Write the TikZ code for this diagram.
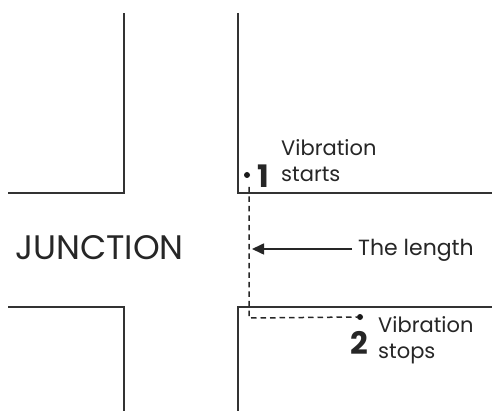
\documentclass[tikz,border=0pt]{standalone}
\usepackage{fontspec}
\setmainfont{Poppins}
\usetikzlibrary{arrows.meta}
\begin{document}
\begin{tikzpicture}[x=1pt,y=-1pt,
  wall/.style={draw=black!80, line width=2pt},
  route/.style={draw=black!85, line width=1.5pt, dash pattern=on 5.5pt off 4pt},
  spot/.style={circle, fill=black!90, inner sep=0pt, minimum size=6pt},
  label/.style={font=\fontsize{21}{26}\selectfont, text=black!85, align=left, inner sep=0pt, anchor=west},
  num/.style={font=\fontsize{31}{31}\selectfont\bfseries, text=black!85, inner sep=0pt}]
\useasboundingbox (0,0) rectangle (492,411);
% road edges
\draw[wall] (8,193) -- (124,193) -- (124,13);
\draw[wall] (238,13) -- (238,193) -- (492,193);
\draw[wall] (8,307) -- (124,307) -- (124,411);
\draw[wall] (492,307) -- (238,307) -- (238,411);
% junction name
\node[font=\fontsize{34}{34}\selectfont, text=black!85, inner sep=0pt, anchor=west] (jn) at (15,248) {JUNCTION};
% start and stop points
\node[spot] (p1) at (247,175) {};
\node[spot] (p2) at (360,317) {};
\coordinate (bend) at (249,318);
\draw[route] (249,187) -- (bend) -- (p2.west);
\node[num] (n1) at (263,176) {1};
\node[label] (t1) at (281,161) {Vibration\\starts};
\node[num] (n2) at (359,343) {2};
\node[label] (t2) at (378,340) {Vibration\\stops};
% length pointer
\node[font=\fontsize{22}{22}\selectfont, text=black!85, inner sep=0pt, anchor=west] (len) at (358,250) {The length};
\coordinate (tip) at (252,249);
\draw[black!85, line width=1.6pt, -{Triangle[length=12pt,width=11pt]}] (len.west) ++(-6,-1) -- (tip);
\end{tikzpicture}
\end{document}
